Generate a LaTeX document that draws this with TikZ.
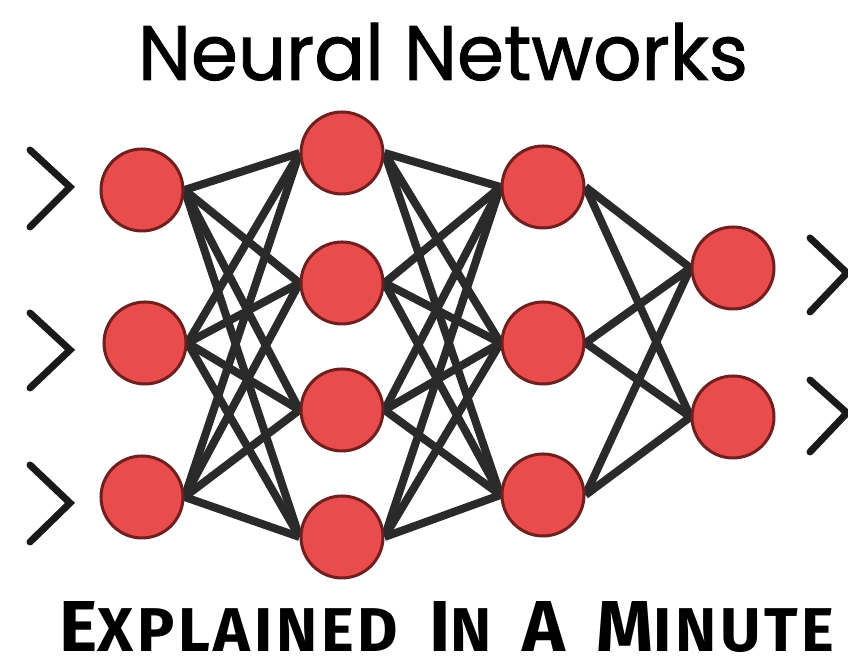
\documentclass[tikz,border=0pt]{standalone}
\usepackage{fontspec}
\setmainfont{Poppins}
\newfontfamily\titlefont[FakeBold=1.2]{Poppins}
\newfontfamily\capsfont[LetterSpace=6]{Fira Sans}
\usetikzlibrary{backgrounds}

\definecolor{neuronred}{RGB}{232,76,76}
\definecolor{neuronrim}{RGB}{112,30,30}
\definecolor{wiregray}{RGB}{42,42,42}
\definecolor{chevronblack}{RGB}{26,26,26}

\tikzset{
  neuron/.style={circle,fill=neuronred,draw=neuronrim,line width=0.03cm,minimum size=0.82cm,inner sep=0pt},
  wire/.style={wiregray,line width=0.08cm},
  chevron/.style={chevronblack,line width=0.07cm,line cap=round,line join=miter}
}
\newcommand{\capbig}[1]{{\fontsize{21}{24}\selectfont #1}}
\newcommand{\capsmall}[1]{{\fontsize{18}{24}\selectfont #1}}

\begin{document}
\begin{tikzpicture}
\useasboundingbox (0,0) rectangle (8.48,6.68);
\node[inner sep=0pt,anchor=base] (title) at (4.43,5.88) {\resizebox{6.1cm}{0.57cm}{\titlefont Neural Networks}};
\node[inner sep=0pt,anchor=base] (subtitle) at (4.47,0.16) {\resizebox{7.75cm}{0.50cm}{\capsfont\bfseries
  \capbig{E}\capsmall{XPLAINED}\hspace{9pt}\capbig{I}\capsmall{N}\hspace{9pt}\capbig{A}\hspace{9pt}\capbig{M}\capsmall{INUTE}}};
% input layer
\node[neuron] (in1) at (1.42,4.78) {};
\node[neuron] (in2) at (1.45,3.25) {};
\node[neuron] (in3) at (1.42,1.71) {};
% hidden layers
\node[neuron] (hid1a) at (3.42,5.15) {};
\node[neuron] (hid1b) at (3.42,3.85) {};
\node[neuron] (hid1c) at (3.42,2.58) {};
\node[neuron] (hid1d) at (3.42,1.31) {};
\node[neuron] (hid2a) at (5.43,4.81) {};
\node[neuron] (hid2b) at (5.43,3.25) {};
\node[neuron] (hid2c) at (5.43,1.73) {};
% output layer
\node[neuron] (out1) at (7.33,4.00) {};
\node[neuron] (out2) at (7.33,2.51) {};
\begin{scope}[on background layer]
\draw[wire] (in1.east) -- (hid1a.west); \draw[wire] (in1.east) -- (hid1b.west);
\draw[wire] (in1.east) -- (hid1c.west); \draw[wire] (in1.east) -- (hid1d.west);
\draw[wire] (in2.east) -- (hid1a.west); \draw[wire] (in2.east) -- (hid1b.west);
\draw[wire] (in2.east) -- (hid1c.west); \draw[wire] (in2.east) -- (hid1d.west);
\draw[wire] (in3.east) -- (hid1a.west); \draw[wire] (in3.east) -- (hid1b.west);
\draw[wire] (in3.east) -- (hid1c.west); \draw[wire] (in3.east) -- (hid1d.west);
\draw[wire] (hid1a.east) -- (hid2a.west); \draw[wire] (hid1a.east) -- (hid2b.west); \draw[wire] (hid1a.east) -- (hid2c.west);
\draw[wire] (hid1b.east) -- (hid2a.west); \draw[wire] (hid1b.east) -- (hid2b.west); \draw[wire] (hid1b.east) -- (hid2c.west);
\draw[wire] (hid1c.east) -- (hid2a.west); \draw[wire] (hid1c.east) -- (hid2b.west); \draw[wire] (hid1c.east) -- (hid2c.west);
\draw[wire] (hid1d.east) -- (hid2a.west); \draw[wire] (hid1d.east) -- (hid2b.west); \draw[wire] (hid1d.east) -- (hid2c.west);
\draw[wire] (hid2a.east) -- (out1.west); \draw[wire] (hid2a.east) -- (out2.west);
\draw[wire] (hid2b.east) -- (out1.west); \draw[wire] (hid2b.east) -- (out2.west);
\draw[wire] (hid2c.east) -- (out1.west); \draw[wire] (hid2c.east) -- (out2.west);
\end{scope}
% chevrons
\draw[chevron] (0.30,5.18) -- (0.70,4.81) -- (0.30,4.41);
\draw[chevron] (0.30,3.55) -- (0.70,3.18) -- (0.30,2.80);
\draw[chevron] (0.30,2.03) -- (0.70,1.65) -- (0.30,1.26);
\draw[chevron] (8.10,4.30) -- (8.47,3.95) -- (8.10,3.56);
\draw[chevron] (8.10,2.88) -- (8.47,2.55) -- (8.10,2.16);
\end{tikzpicture}
\end{document}
